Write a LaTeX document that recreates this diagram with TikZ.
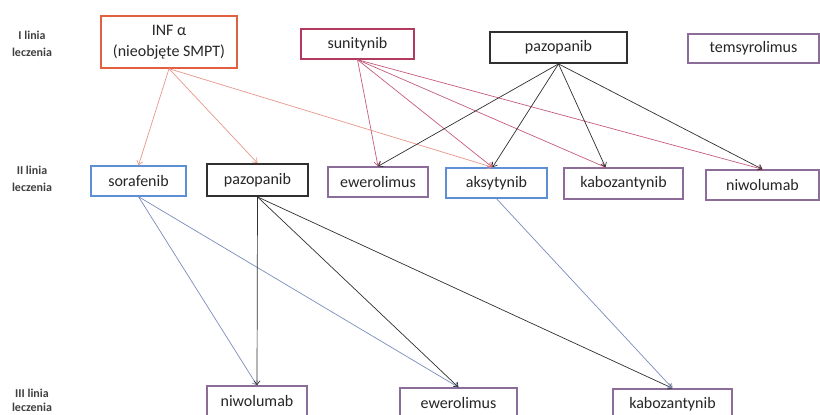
\documentclass[tikz,border=0pt]{standalone}
\usepackage{fontspec}
\setmainfont{Carlito}
\usepackage{xcolor}
\usepackage{tikz}
\usetikzlibrary{arrows.meta,positioning,calc}
\definecolor{infred}{HTML}{E2603F}
\definecolor{infarr}{HTML}{E8978A}
\definecolor{sunred}{HTML}{B23A5E}
\definecolor{sunarr}{HTML}{C65C7A}
\definecolor{darkbox}{HTML}{303030}
\definecolor{lilac}{HTML}{8C6C98}
\definecolor{boxblue}{HTML}{5E8FD6}
\definecolor{bluearr}{HTML}{7C8CBC}

\begin{document}
\begin{tikzpicture}[x=1pt,y=-1pt,font=\fontsize{16}{18}\selectfont,
   dr/.style={draw,line width=1.4pt,minimum height=30pt,inner sep=0pt,align=center,text=black!85},
   lvl/.style={font=\fontsize{12}{17}\selectfont\bfseries,align=center,text=black!75},
   ar/.style={-{Straight Barb[length=4pt,width=6pt]},line width=0.7pt}]
  \clip (0,0) rectangle (820,415);
  \fill[white] (0,0) rectangle (820,415);
  \node[lvl] (l1) at (32,44) {I linia\\leczenia};
  \node[lvl] (l2) at (32,179) {II linia\\leczenia};
  \node[lvl,font=\fontsize{12}{14}\selectfont\bfseries] (l3) at (32,400) {III linia\\leczenia};
  % I linia
  \node[dr,draw=infred,minimum width=136pt,minimum height=52pt,
        font=\fontsize{16}{21}\selectfont] (inf) at (169,42) {INF α\\(nieobjęte SMPT)};
  \node[dr,draw=sunred,minimum width=113pt] (suni) at (357.5,44) {sunitynib};
  \node[dr,draw=darkbox,line width=1.8pt,minimum width=137pt,minimum height=31pt] (pazoA) at (558.5,47.5) {pazopanib};
  \node[dr,draw=lilac,minimum width=131pt,minimum height=29pt] (temsi) at (753.5,48.5) {temsyrolimus};
  % II linia
  \node[dr,draw=boxblue,minimum width=95pt] (sora) at (138.5,181) {sorafenib};
  \node[dr,draw=darkbox,line width=1.8pt,minimum width=101pt,minimum height=32pt] (pazoB) at (257.5,180) {pazopanib};
  \node[dr,draw=lilac,minimum width=100pt] (ewerB) at (378,182) {ewerolimus};
  \node[dr,draw=boxblue,minimum width=101pt] (aksy) at (496.5,183) {aksytynib};
  \node[dr,draw=lilac,minimum width=119pt,minimum height=31pt] (kaboB) at (623.5,183.5) {kabozantynib};
  \node[dr,draw=lilac,minimum width=113pt] (niwoB) at (762.5,185) {niwolumab};
  % III linia
  \node[dr,draw=lilac,minimum width=100pt] (niwoC) at (257,401) {niwolumab};
  \node[dr,draw=lilac,minimum width=117pt] (ewerC) at (458.5,403) {ewerolimus};
  \node[dr,draw=lilac,minimum width=119pt] (kaboC) at (672.5,404) {kabozantynib};
  % strzalki
  \draw[ar,infarr] (inf.south) -- (sora.north);
  \draw[ar,infarr] (inf.south) -- (pazoB.north);
  \draw[ar,infarr] (inf.south) -- ($(aksy.north)+(-4,0)$);
  \draw[ar,sunarr] (suni.south) -- (ewerB.north);
  \draw[ar,sunarr] (suni.south) -- ($(aksy.north)+(-4,0)$);
  \draw[ar,sunarr] (suni.south) -- ($(kaboB.north)+(-18,0)$);
  \draw[ar,sunarr] (suni.south) -- (niwoB.north);
  \draw[ar,darkbox] (pazoA.south) -- (ewerB.north);
  \draw[ar,darkbox] (pazoA.south) -- ($(aksy.north)+(-4,0)$);
  \draw[ar,darkbox] (pazoA.south) -- ($(kaboB.north)+(-18,0)$);
  \draw[ar,darkbox] (pazoA.south) -- (niwoB.north);
  \draw[ar,bluearr] (sora.south) -- (niwoC.north);
  \draw[ar,bluearr] (sora.south) -- (ewerC.north);
  \draw[ar,darkbox] (pazoB.south) -- (niwoC.north);
  \draw[ar,darkbox] (pazoB.south) -- (ewerC.north);
  \draw[ar,darkbox] (pazoB.south) -- (kaboC.north);
  \draw[ar,bluearr] (aksy.south) -- (kaboC.north);
\end{tikzpicture}
\end{document}
